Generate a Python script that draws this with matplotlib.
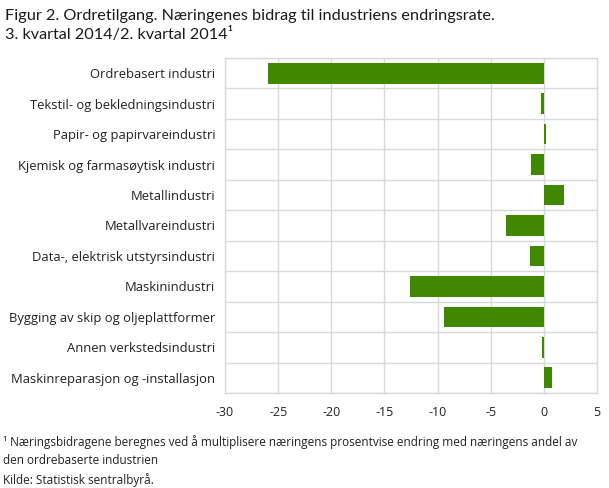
import matplotlib
matplotlib.use("Agg")
import matplotlib.pyplot as plt
import numpy as np

categories = [
    "Ordrebasert industri",
    "Tekstil- og bekledningsindustri",
    "Papir- og papirvareindustri",
    "Kjemisk og farmasøytisk industri",
    "Metallindustri",
    "Metallvareindustri",
    "Data-, elektrisk utstyrsindustri",
    "Maskinindustri",
    "Bygging av skip og oljeplattformer",
    "Annen verkstedsindustri",
    "Maskinreparasjon og -installasjon",
]
values = [-26.0, -0.3, 0.2, -1.2, 1.9, -3.6, -1.3, -12.6, -9.4, -0.2, 0.8]
xticks = [-30, -25, -20, -15, -10, -5, 0, 5]

plt.rcParams['font.family'] = ['Open Sans', 'DejaVu Sans']

W, H = 609, 488
fig = plt.figure(figsize=(W / 100, H / 100), dpi=100)
ax = fig.add_axes([225 / W, 1 - 393 / H, (597 - 225) / W, (393 - 58) / H])

n = len(categories)
y = np.arange(n)
ax.barh(y, values, height=0.68, color="#3f8800", zorder=3)
ax.set_ylim(n - 0.5, -0.5)
ax.set_xlim(-30, 5)
ax.set_xticks(xticks)
ax.set_xticklabels([str(t) for t in xticks], fontsize=9, color="#222222")
ax.set_yticks(y)
ax.set_yticklabels(categories, fontsize=9.4, color="#222222")
ax.set_yticks(np.arange(n + 1) - 0.5, minor=True)
ax.tick_params(axis="y", which="both", length=0, pad=7)
ax.tick_params(axis="x", length=0, pad=9)
ax.grid(axis="x", color="#d9d9d9", linewidth=1, zorder=0)
ax.grid(axis="y", which="minor", color="#d9d9d9", linewidth=1, zorder=0)
ax.grid(axis="y", which="major", visible=False)
for s in ax.spines.values():
    s.set_color("#d9d9d9")
    s.set_linewidth(1)

tfont = ['Lato', 'DejaVu Sans']
fig.text(5 / W, 1 - 20 / H, "Figur 2. Ordretilgang. Næringenes bidrag til industriens endringsrate.",
         fontsize=11.7, color="#1a1a1a", va="baseline", ha="left", family=tfont)
fig.text(5 / W, 1 - 39 / H, "3. kvartal 2014/2. kvartal 2014\u00b9",
         fontsize=11.7, color="#1a1a1a", va="baseline", ha="left", family=tfont)

fs = 8.5
fig.text(3 / W, 1 - 446 / H,
         "\u00b9 Næringsbidragene beregnes ved å multiplisere næringens prosentvise endring med næringens andel av",
         fontsize=fs, color="#222222", va="baseline", ha="left")
fig.text(3 / W, 1 - 464 / H, "den ordrebaserte industrien",
         fontsize=fs, color="#222222", va="baseline", ha="left")
fig.text(3 / W, 1 - 484 / H, "Kilde: Statistisk sentralbyrå.",
         fontsize=fs, color="#222222", va="baseline", ha="left")

fig.savefig("out.png", dpi=100)
